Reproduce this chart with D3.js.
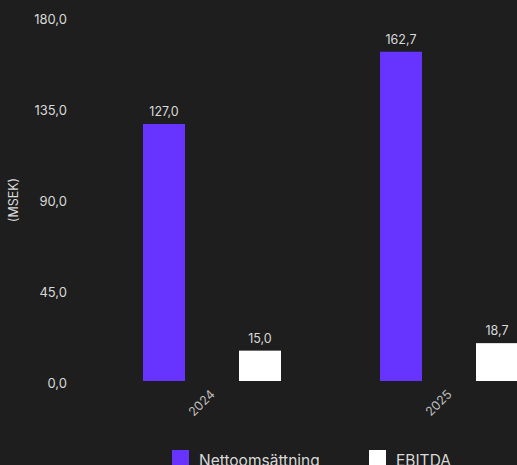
<!DOCTYPE html>
<html><head><meta charset="utf-8">
<script src="https://cdn.jsdelivr.net/npm/d3@7"></script>
<style>
html,body{margin:0;padding:0;background:#1e1e1e;overflow:hidden;}
svg{display:block;}
text{font-family:Inter,"Noto Sans",sans-serif;}
</style></head>
<body>
<script>
const categories = ["2024", "2025"];
const seriesNames = ["Nettoomsättning", "EBITDA"];
const netto = [127.0, 162.7];
const ebitda = [15.0, 18.7];
const yTicks = [0, 45, 90, 135, 180];
const colors = ["#6633ff", "#ffffff"];

const W = 517, H = 465;
const svg = d3.select("body").append("svg").attr("width", W).attr("height", H);
svg.append("rect").attr("width", W).attr("height", H).attr("fill", "#1e1e1e");

const x0 = d3.scaleBand().domain(categories).range([93, 567]).paddingInner(0).paddingOuter(0);
const x1 = d3.scaleBand().domain(seriesNames).range([50, 188]).paddingInner(0.5625).paddingOuter(0);
const y = d3.scaleLinear().domain([0, 180]).range([381, 16.7]);
const fmt = v => d3.format(".1f")(v).replace(".", ",");

// y axis
const yAxis = d3.axisLeft(y).tickValues(yTicks).tickFormat(fmt).tickSize(0).tickPadding(0);
const yg = svg.append("g").attr("transform", "translate(67,0)").call(yAxis);
yg.select(".domain").remove();
yg.selectAll("text").attr("fill", "#d9d9d9").attr("font-size", "13px").attr("dy", "0.5em");

svg.append("text").attr("transform", "translate(18,200) rotate(-90)")
  .attr("text-anchor", "middle").attr("fill", "#d9d9d9").attr("font-size", "12.5px").text("(MSEK)");

const data = categories.map((c, i) => ({cat: c, vals: [
  {s: seriesNames[0], v: netto[i], c: colors[0]},
  {s: seriesNames[1], v: ebitda[i], c: colors[1]}
]}));

const groups = svg.selectAll("g.grp").data(data).enter().append("g")
  .attr("class", "grp").attr("transform", d => `translate(${x0(d.cat)},0)`);
groups.selectAll("rect").data(d => d.vals).enter().append("rect")
  .attr("x", d => x1(d.s)).attr("width", x1.bandwidth())
  .attr("y", d => y(d.v)).attr("height", d => y(0) - y(d.v)).attr("fill", d => d.c);
groups.selectAll("text.val").data(d => d.vals).enter().append("text").attr("class", "val")
  .attr("x", d => x1(d.s) + x1.bandwidth() / 2).attr("y", d => y(d.v) - 8)
  .attr("text-anchor", "middle").attr("fill", "#d9d9d9").attr("font-size", "12.5px")
  .text(d => fmt(d.v));

// x axis labels
const xAxis = d3.axisBottom(x0).tickSize(0).tickPadding(0);
const xg = svg.append("g").attr("transform", "translate(0,381)").call(xAxis);
xg.select(".domain").remove();
xg.selectAll("text").attr("fill", "#bdbdbd").attr("font-size", "12.5px")
  .attr("text-anchor", "end").attr("dy", "0.35em").attr("y", 0)
  .attr("transform", "translate(1,11) rotate(-45)");

// legend
const leg = svg.append("g");
const legX = [172, 369];
seriesNames.forEach((s, i) => {
  leg.append("rect").attr("x", legX[i]).attr("y", 450).attr("width", 17).attr("height", 17).attr("fill", colors[i]);
  leg.append("text").attr("x", legX[i] + 27).attr("y", 466).attr("fill", "#d9d9d9").attr("font-size", "15.5px").text(s);
});
</script>
</body></html>
